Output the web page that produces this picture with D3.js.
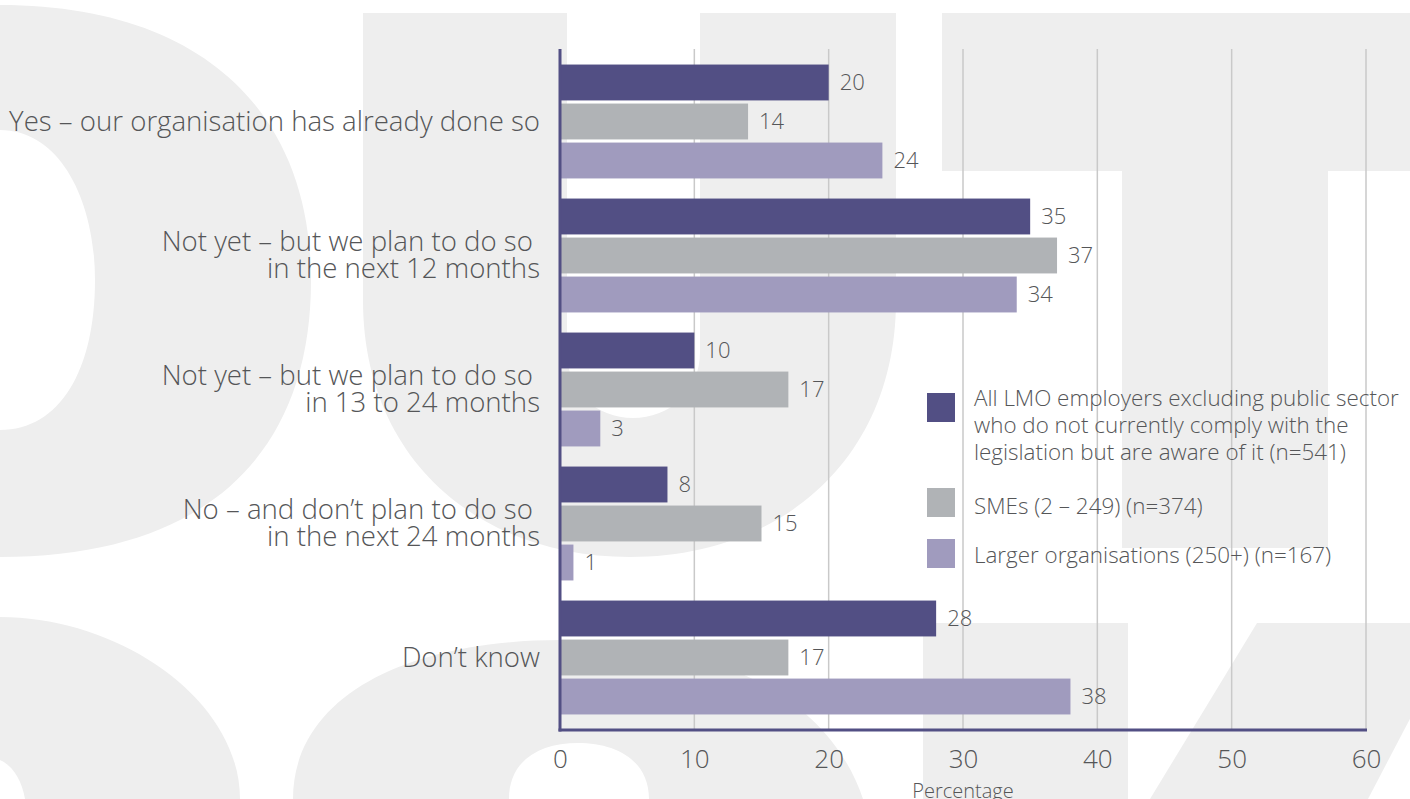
<!DOCTYPE html>
<html>
<head>
<meta charset="utf-8">
<script src="https://cdn.jsdelivr.net/npm/d3@7"></script>
<style>
  html, body { margin: 0; padding: 0; background: #ffffff; }
  svg { display: block; }
  text { font-family: "Open Sans", "Noto Sans", sans-serif; font-weight: 300; }
</style>
</head>
<body>
<svg id="chart" width="1410" height="799"></svg>
<script>
// ---------- data ----------
const categories = [
  ["Yes – our organisation has already done so"],
  ["Not yet – but we plan to do so ", "in the next 12 months"],
  ["Not yet – but we plan to do so ", "in 13 to 24 months"],
  ["No – and don’t plan to do so ", "in the next 24 months"],
  ["Don’t know"]
];
const seriesNames = [
  ["All LMO employers excluding public sector", "who do not currently comply with the", "legislation but are aware of it (n=541)"],
  ["SMEs (2 – 249) (n=374)"],
  ["Larger organisations (250+) (n=167)"]
];
const allLMO  = [20, 35, 10, 8, 28];
const smes    = [14, 37, 17, 15, 17];
const larger  = [24, 34, 3, 1, 38];
const seriesValues = [allLMO, smes, larger];
const seriesColors = ["#524f84", "#b0b3b6", "#a09bbe"];
const xTicks = [0, 10, 20, 30, 40, 50, 60];
const xTitle = "Percentage";

// ---------- layout ----------
const svg = d3.select("#chart");
const plot = { left: 560, right: 1366, top: 49, bottom: 730 };
const textColor = "#555658";
const axisColor = "#524f84";

// ---------- decorative background letters ----------
const bg = svg.append("g").attr("fill", "#eeeeee").attr("fill-rule", "evenodd");
const bgShapes = [
  // P bowl with counter
  "M0,5 C200,5 311,110 311,281 C311,450 210,557 0,557 Z M0,130 C60,130 95,200 95,280 C95,370 60,430 0,430 Z",
  // U
  "M363,13 L363,300 C363,460 480,557 630,557 C780,557 896,460 896,300 L896,13 Z M567,13 L567,352 C567,392 597,418 633,418 C669,418 700,392 700,352 L700,13 Z",
  // T
  "M942,13 H1410 V171 H1328 V548 H1122 V171 H942 Z",
  // bottom-left round
  "M0,617 C120,617 240,700 240,799 L0,799 Z M0,760 C12,765 22,780 25,799 L0,799 Z",
  // bottom-middle arch
  "M293,799 C293,700 400,640 562,640 C720,640 830,700 863,799 Z M509,799 C509,760 540,743 578,743 C616,743 649,760 649,799 Z",
  // bottom rect
  "M923,623 H1128 V799 H923 Z",
  // slash
  "M1257,623 L1460,623 L1368,799 L1150,799 Z"
];
bg.selectAll("path").data(bgShapes).join("path").attr("d", d => d);

// ---------- scales ----------
const x = d3.scaleLinear().domain([0, 60]).range([plot.left, plot.right]);
const y = d3.scaleBand().domain(d3.range(categories.length))
  .range([plot.top, plot.bottom]).paddingInner(0.15).paddingOuter(0.116);
const ys = d3.scaleBand().domain(d3.range(seriesValues.length))
  .range([0, y.bandwidth()]).paddingInner(0.08);

// ---------- gridlines ----------
svg.append("g")
  .selectAll("line").data(xTicks.filter(t => t > 0)).join("line")
  .attr("x1", d => x(d)).attr("x2", d => x(d))
  .attr("y1", plot.top).attr("y2", plot.bottom)
  .attr("stroke", "#c9c9c9").attr("stroke-width", 1.5);

// ---------- bars ----------
const groups = svg.append("g").selectAll("g").data(categories).join("g")
  .attr("transform", (d, i) => `translate(0,${y(i)})`);

seriesValues.forEach((vals, s) => {
  groups.append("rect")
    .attr("x", x(0))
    .attr("y", ys(s))
    .attr("width", (d, i) => x(vals[i]) - x(0))
    .attr("height", ys.bandwidth())
    .attr("fill", seriesColors[s]);
  groups.append("text")
    .attr("x", (d, i) => x(vals[i]) + 11)
    .attr("y", ys(s) + ys.bandwidth() / 2 + 7.5)
    .attr("font-size", 22)
    .attr("fill", textColor)
    .text((d, i) => vals[i]);
});

// ---------- category labels ----------
const lineH = 27;
groups.append("text")
  .attr("text-anchor", "end")
  .attr("font-size", 27.6)
  .attr("fill", textColor)
  .style("white-space", "pre")
  .each(function (lines) {
    const t = d3.select(this);
    const mid = y.bandwidth() / 2;
    const first = mid - (lines.length - 1) * lineH / 2 + 9.5;
    lines.forEach((ln, k) => {
      t.append("tspan").attr("x", 540).attr("y", first + k * lineH).text(ln);
    });
  });

// ---------- axes lines ----------
svg.append("line")
  .attr("x1", x(0)).attr("x2", x(0))
  .attr("y1", plot.top).attr("y2", plot.bottom + 1.5)
  .attr("stroke", axisColor).attr("stroke-width", 3);
svg.append("line")
  .attr("x1", x(0) - 1.5).attr("x2", x(60) + 1)
  .attr("y1", plot.bottom).attr("y2", plot.bottom)
  .attr("stroke", axisColor).attr("stroke-width", 3);

// ---------- x axis tick labels ----------
const xAxis = d3.axisBottom(x).tickValues(xTicks).tickSize(0).tickPadding(0);
const xg = svg.append("g").attr("transform", `translate(0,${plot.bottom})`).call(xAxis);
xg.select(".domain").remove();
xg.selectAll("text")
  .attr("dy", null).attr("y", 38)
  .attr("font-size", 26)
  .attr("font-family", null)
  .attr("fill", textColor);

svg.append("text")
  .attr("x", x(30)).attr("y", 798)
  .attr("text-anchor", "middle")
  .attr("font-size", 20)
  .attr("fill", textColor)
  .text(xTitle);

// ---------- legend ----------
const legendRows = [
  { sq: 393, lines: [398, 425, 452] },
  { sq: 488, lines: [506] },
  { sq: 539, lines: [555] }
];
const lg = svg.append("g");
seriesNames.forEach((lines, s) => {
  lg.append("rect")
    .attr("x", 927).attr("y", legendRows[s].sq)
    .attr("width", 28).attr("height", 29)
    .attr("fill", seriesColors[s]);
  const t = lg.append("text").attr("font-size", 22.4).attr("fill", textColor);
  lines.forEach((ln, k) => {
    t.append("tspan").attr("x", 974).attr("y", legendRows[s].lines[k] + 8).text(ln);
  });
});
</script>
</body>
</html>
